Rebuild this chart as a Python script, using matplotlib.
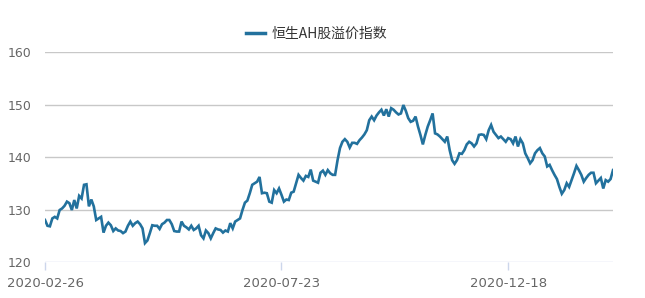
import numpy as np
import matplotlib; matplotlib.use("Agg")
import matplotlib.pyplot as plt

# 恒生AH股溢价指数, daily closes (2020-02-26 .. 2021-02)
vals_mar_jul = [
    128.0, 126.9, 126.8, 128.3, 128.6, 128.3, 129.9, 130.2, 130.7, 131.5,
    131.2, 129.9, 131.8, 130.2, 132.6, 132.1, 134.7, 134.8, 130.6, 131.9,
    130.6, 128.0, 128.3, 128.6, 125.6, 126.9, 127.5, 127.0, 125.9, 126.4,
    126.0, 125.9, 125.5, 125.8, 126.9, 127.7, 126.9, 127.4, 127.7, 127.2,
    126.4, 123.6, 124.1, 125.5, 127.0, 126.9, 126.9, 126.3, 127.2, 127.5,
    128.0, 128.0, 127.2, 125.9, 125.8, 125.8, 127.7, 126.9, 126.6, 126.2,
    126.9, 126.1, 126.4, 126.9, 125.1, 124.5, 126.0, 125.5, 124.5, 125.5,
    126.4, 126.2, 126.1, 125.6, 126.0, 125.8, 127.4, 126.4, 127.7, 128.0,
    128.3, 129.9, 131.3, 131.7, 133.1, 134.7, 135.0, 135.3, 136.2, 133.1,
    133.2, 133.1, 131.5, 131.3, 133.7, 133.1, 134.0, 132.8, 131.5, 131.9,
    131.8, 133.2, 133.4, 135.0, 136.6, 136.0, 135.5, 136.4, 136.2, 137.6,
    135.5, 135.3, 135.1, 137.0, 137.4,
]
vals_aug = [
    136.6, 137.5, 136.9, 136.6, 136.6, 139.4, 141.7, 142.9, 143.4, 142.9,
    141.8, 142.7, 142.7, 142.5,
]
vals_sep_oct = [
    143.2, 143.7, 144.3, 145.1, 147.0, 147.7, 147.0, 147.9, 148.5, 149.0,
    147.9, 149.1, 147.7, 149.3, 149.0, 148.5, 148.1, 148.3, 149.9, 148.8,
    147.4, 146.7, 146.9, 147.7, 145.8, 144.2, 142.4, 144.2, 145.8, 147.0,
    148.3, 144.5, 144.3, 143.9, 143.4, 142.9, 143.9,
]
vals_nov_feb = [
    141.3, 139.4, 138.7, 139.4, 140.7, 140.6, 141.3, 142.4, 142.9, 142.6,
    142.0, 142.6, 144.2, 144.3, 144.2, 143.4, 145.1, 146.1, 144.8, 144.2,
    143.6, 143.9, 143.4, 142.9, 143.6, 143.4, 142.6, 143.9, 142.0, 143.4,
    142.6, 140.7, 139.8, 138.8, 139.4, 140.7, 141.3, 141.7, 140.7, 140.1,
    138.2, 138.5, 137.5, 136.6, 135.8, 134.3, 133.0, 133.7, 135.0, 134.3,
    135.6, 136.9, 138.3, 137.5, 136.6, 135.3, 136.0, 136.6, 137.0, 137.0,
    135.0, 135.5, 136.0, 134.0, 135.6, 135.3, 135.8, 137.5,
]
values = vals_mar_jul + vals_aug + vals_sep_oct + vals_nov_feb

tick_labels = ["2020-02-26", "2020-07-23", "2020-12-18"]
tick_pos = [0, 97, 190]          # series index of each labelled date
y_ticks = [120, 130, 140, 150, 160]
series_name = "恒生AH股溢价指数"

fig = plt.figure(figsize=(6.45, 2.98), dpi=100)
ax = fig.add_axes([0.0698, 0.1208, 0.8806, 0.7047])

x = np.arange(len(values))
ax.plot(x, values, color="#22719d", lw=1.9, solid_joinstyle="miter", label=series_name)

ax.set_xlim(0, len(values) - 1)
ax.set_ylim(y_ticks[0], y_ticks[-1])
ax.set_yticks(y_ticks)
for yt in y_ticks[1:]:
    ax.axhline(yt, color="#c8c8c8", lw=1.0, zorder=0)
ax.axhline(y_ticks[0], color="#ccd6eb", lw=1.0, zorder=0)

ax.set_xticks(tick_pos)
ax.set_xticklabels(tick_labels)
for s in ax.spines.values():
    s.set_visible(False)
ax.tick_params(axis="y", length=0, pad=10, labelsize=9, labelcolor="#666666")
ax.tick_params(axis="x", length=6, width=1, color="#ccd6eb", pad=5,
               labelsize=9.5, labelcolor="#666666")

leg = fig.legend(loc="center", bbox_to_anchor=(0.491, 0.888), frameon=False,
                 handlelength=1.4, handletextpad=0.5,
                 prop={"family": ["Noto Sans CJK SC", "DejaVu Sans"], "size": 10})
for t in leg.get_texts():
    t.set_color("#333333")
for h in leg.get_lines():
    h.set_linewidth(2.5)

fig.savefig("out.png", dpi=100)
